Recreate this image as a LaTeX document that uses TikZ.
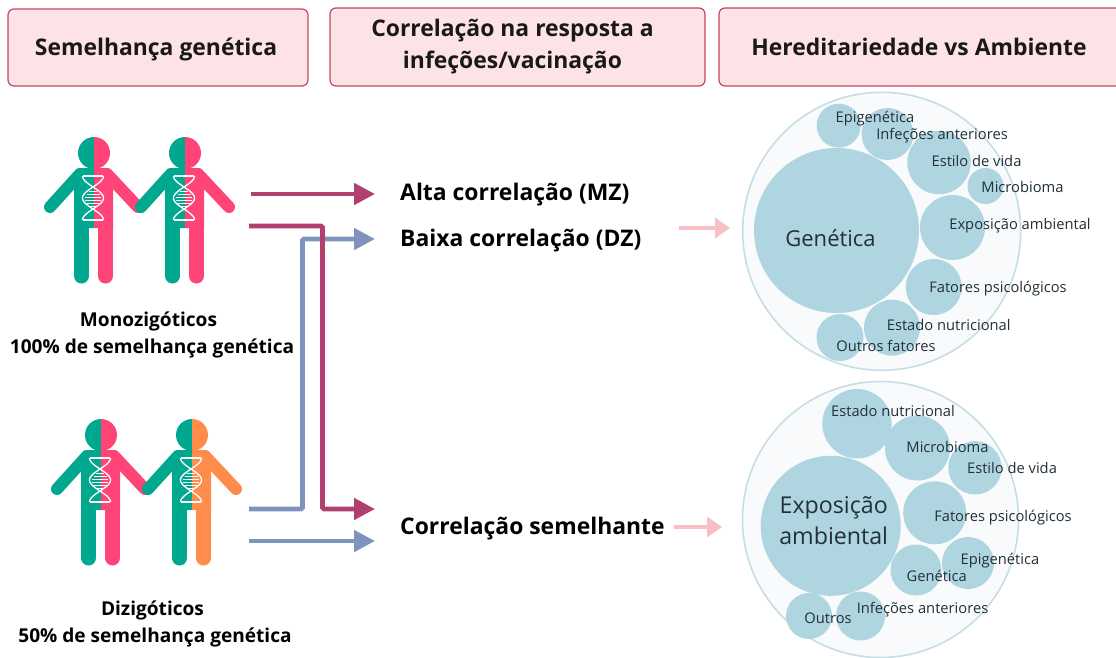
\documentclass[tikz,border=0pt]{standalone}
\usepackage{fontspec}
\setmainfont{Open Sans}
\usetikzlibrary{arrows.meta}
\definecolor{teal1}{HTML}{00A88F}
\definecolor{pink1}{HTML}{FF4477}
\definecolor{orange1}{HTML}{FF8C4A}
\definecolor{mag}{HTML}{B2406F}
\definecolor{blu}{HTML}{7F93BF}
\definecolor{palepink}{HTML}{F9BFC6}
\definecolor{hdrfill}{HTML}{FDE3E7}
\definecolor{hdrline}{HTML}{C4475F}
\definecolor{bub}{HTML}{AFD6E0}
\definecolor{bubline}{HTML}{C5DEE4}
\definecolor{bubbg}{HTML}{F9FAFB}
\definecolor{txt}{HTML}{22303A}
\tikzset{
  hdr/.style={draw=hdrline,fill=hdrfill,line width=1.2pt,rounded corners=6pt,inner sep=0pt},
  hdrtext/.style={font=\fontsize{22.9}{32}\selectfont\bfseries,align=center,text=black!90},
  lab/.style={font=\fontsize{22.9}{26}\selectfont\bfseries,anchor=west,text=black,inner sep=0pt},
  captext/.style={font=\fontsize{19.1}{27}\selectfont\bfseries,align=center,text=black,inner sep=0pt,text height=14pt,text depth=4.5pt},
  outer/.style={draw=bubline,fill=bubbg,line width=1.6pt},
  bubble/.style={fill=bub},
  small/.style={font=\fontsize{14.7}{17}\selectfont,text=txt,inner sep=0pt,text height=11pt,text depth=3.5pt,yshift=-1.7pt},
  big/.style={font=\fontsize{22}{30}\selectfont,text=txt,inner sep=0pt,align=center},
  magarrow/.style={draw=mag,line width=4.8pt,-{Triangle[length=21pt,width=21pt,fill=mag]},rounded corners=1.5pt},
  bluarrow/.style={draw=blu,line width=4.8pt,-{Triangle[length=21pt,width=21pt,fill=blu]},rounded corners=1.5pt},
  softarrow/.style={draw=palepink,line width=3.8pt,-{Triangle[length=15pt,width=20pt,fill=palepink]}}
}
% head x, head y, left colour, right colour
\newcommand{\personfig}[4]{%
\begin{scope}[shift={(#1,#2)}]
  \begin{scope}
    \clip (-60,-20) rectangle (0,140);
    \fill[#3] (0,0) circle[radius=16];
    \fill[#3] (0,15) -- (-15,15) to[out=180,in=90] (-20,24) -- (-20,75) -- (0,75) -- cycle;
    \draw[#3,line width=12pt,line cap=round] (-15,22) -- (-44,54);
    \draw[#3,line width=15pt,line cap=round] (-12.5,60) -- (-12.5,123);
  \end{scope}
  \begin{scope}
    \clip (0,-20) rectangle (60,140);
    \fill[#4] (0,0) circle[radius=16];
    \fill[#4] (0,15) -- (14,15) to[out=0,in=90] (19,24) -- (19,75) -- (0,75) -- cycle;
    \draw[#4,line width=12pt,line cap=round] (14,22) -- (44,54);
    \draw[#4,line width=15pt,line cap=round] (11.5,60) -- (11.5,123);
  \end{scope}
  \fill[#4] (0,60) rectangle (4,75);
  \draw[white,line width=1.3pt] plot[domain=23:67,samples=40,smooth] ({-1+10.5*cos((\x-23)*360/44)},\x);
  \draw[white,line width=1.3pt] plot[domain=23:67,samples=40,smooth] ({-1-10.5*cos((\x-23)*360/44)},\x);
  \foreach \yy/\ww in {38/4,41/6.5,44/8,47/8,50/6.5,53/4}{
    \draw[white,line width=.8pt] (-1-\ww,\yy) -- (-1+\ww,\yy);}
  \draw[white,line width=1.3pt] (-11,23) -- (9,23);
  \draw[white,line width=1.3pt] (-11,67) -- (9,67);
\end{scope}}
\begin{document}
\begin{tikzpicture}[x=1pt,y=-1pt]
\useasboundingbox (0,0) rectangle (1116,657);
\fill[white] (0,0) rectangle (1116,657);
% headers
\draw[hdr] (8,9) rectangle (308,86);
\draw[hdr] (330,8) rectangle (705,86);
\draw[hdr] (719,8) rectangle (1125,86);
\node[hdrtext] (h1) at (156,49) {Semelhança genética};
\node[hdrtext] (h2) at (512.5,47) {Correlação na resposta a\\infeções/vacinação};
\node[hdrtext] (h3) at (919,47) {Hereditariedade vs Ambiente};
% people
\personfig{94}{153}{teal1}{pink1}
\personfig{185}{153}{teal1}{pink1}
\personfig{101}{435}{teal1}{pink1}
\personfig{192}{435}{teal1}{orange1}
\node[captext] (mono) at (148.5,322) {Monozigóticos};
\node[captext] (mono2) at (152,349) {100\% de semelhança genética};
\node[captext] (di) at (152.5,611) {Dizigóticos};
\node[captext] (di2) at (155,638) {50\% de semelhança genética};
% connector ends
\coordinate (a1s) at (251,194); \coordinate (a1e) at (375,194);
\coordinate (a2s) at (249,226); \coordinate (a2m) at (322.5,226); \coordinate (a2n) at (322.5,509); \coordinate (a2e) at (375,509);
\coordinate (a3s) at (249,509); \coordinate (a3m) at (302.5,509); \coordinate (a3n) at (302.5,239); \coordinate (a3e) at (375,239);
\coordinate (a4s) at (249,541); \coordinate (a4e) at (375,541);
\draw[bluarrow] (a3s) -- (a3m) -- (a3n) -- (a3e);
\draw[bluarrow] (a4s) -- (a4e);
\draw[magarrow] (a1s) -- (a1e);
\draw[magarrow] (a2s) -- (a2m) -- (a2n) -- (a2e);
% labels
\node[lab] (alta) at (400,194.5) {Alta correlação (MZ)};
\node[lab] (baixa) at (400,240.5) {Baixa correlação (DZ)};
\node[lab] (sem) at (400,528.5) {Correlação semelhante};
\coordinate (s1a) at (679,228); \coordinate (s1b) at (730,228);
\coordinate (s2a) at (674,527); \coordinate (s2b) at (722,527);
\draw[softarrow] (s1a) -- (s1b);
\draw[softarrow] (s2a) -- (s2b);
% top bubbles
\filldraw[outer] (881.7,231.3) circle[radius=139];
\foreach \cx/\cy/\r in {836.5/230.5/82.5, 838.7/125.7/22, 887.5/134/26, 939/162.5/31.7, 985.5/186/18, 952.5/227.5/32.5, 933.7/287/28, 892/327.7/28, 840/337.5/23.5}
  \fill[bubble] (\cx,\cy) circle[radius=\r];
\node[big] (t1) at (830.5,237.7) {Genética};
\node[small] (t2) at (875,117) {Epigenética};
\node[small] (t3) at (942,134) {Infeções anteriores};
\node[small] (t4) at (976.5,161) {Estilo de vida};
\node[small] (t5) at (1022.5,187) {Microbioma};
\node[small] (t6) at (1020,224) {Exposição ambiental};
\node[small] (t7) at (998,287) {Fatores psicológicos};
\node[small] (t8) at (948.7,325) {Estado nutricional};
\node[small] (t9) at (886,346) {Outros fatores};
% bottom bubbles
\filldraw[outer] (880.5,519.5) circle[radius=138];
\foreach \cx/\cy/\r in {830.7/525.8/70, 857/423.7/34.7, 917.5/448/32.5, 975/467.8/26.7, 934.7/512.8/31.5, 916/570/25.5, 968/563/26, 809/616/23, 860.5/616/24.5}
  \fill[bubble] (\cx,\cy) circle[radius=\r];
\node[big,font=\fontsize{23.2}{31}\selectfont] (b1) at (833.7,520.5) {Exposição\\ambiental};
\node[small] (b2) at (893,411) {Estado nutricional};
\node[small] (b3) at (947.5,447) {Microbioma};
\node[small] (b4) at (1012,467.7) {Estilo de vida};
\node[small] (b5) at (1003,515.7) {Fatores psicológicos};
\node[small] (b6) at (1000,559) {Epigenética};
\node[small] (b7) at (936.7,576) {Genética};
\node[small] (b8) at (922.5,607.7) {Infeções anteriores};
\node[small] (b9) at (828,618) {Outros};
\end{tikzpicture}
\end{document}
